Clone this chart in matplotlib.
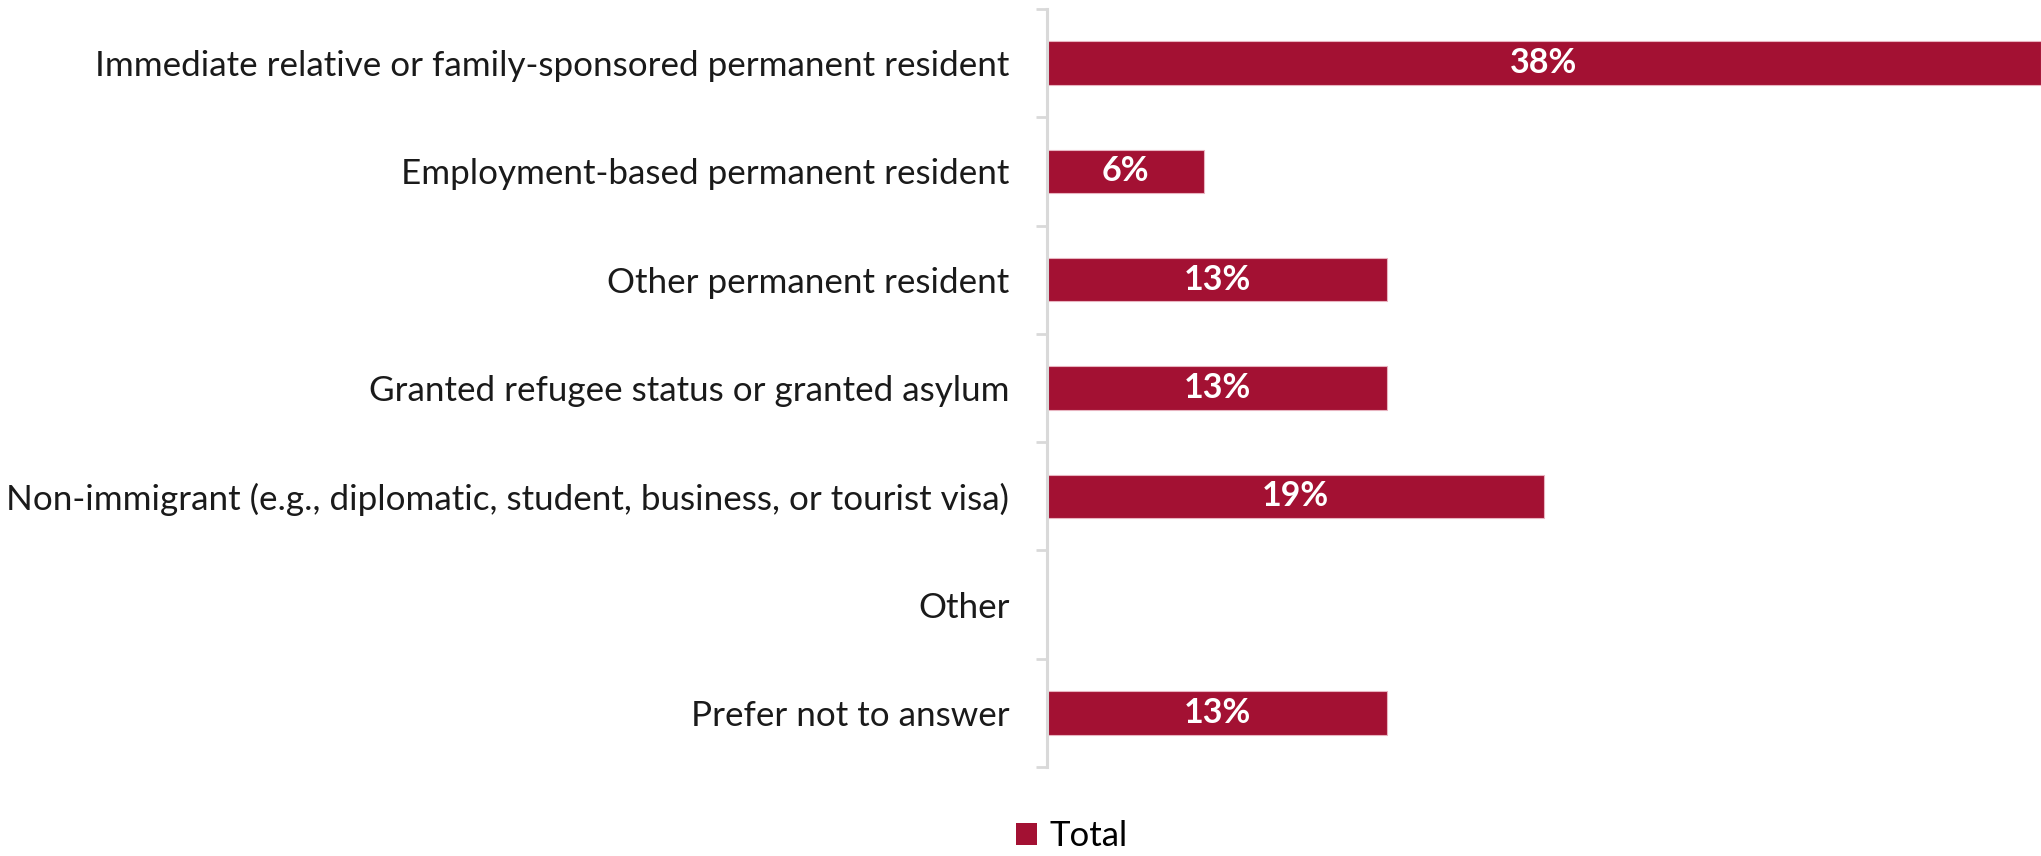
import matplotlib
matplotlib.use("Agg")
import matplotlib.pyplot as plt
from matplotlib.patches import Patch

categories = [
    "Immediate relative or family-sponsored permanent resident",
    "Employment-based permanent resident",
    "Other permanent resident",
    "Granted refugee status or granted asylum",
    "Non-immigrant (e.g., diplomatic, student, business, or tourist visa)",
    "Other",
    "Prefer not to answer",
]
values = [38, 6, 13, 13, 19, 0, 13]
series_name = "Total"

BAR = "#A31133"
AXIS = "#D9D9D9"

plt.rcParams["font.family"] = ["Lato", "DejaVu Sans"]

W, H, DPI = 2041, 856, 100
fig = plt.figure(figsize=(W / DPI, H / DPI), dpi=DPI)
ax = fig.add_axes([1047 / W, 1 - 767 / H, 1 - 1047 / W, (767 - 9) / H])

ypos = list(range(len(categories)))
bars = ax.barh(ypos, values, height=0.4, color=BAR, edgecolor="#E8B4C0",
               linewidth=0.8, zorder=2)

for b, v in zip(bars, values):
    if v <= 0:
        continue
    ax.text(b.get_width() / 2, b.get_y() + b.get_height() / 2, f"{v}%",
            ha="center", va="center", color="white", fontsize=24.5,
            fontweight="bold", zorder=3)

ax.set_xlim(0, 38)
ax.set_ylim(len(categories) - 0.5, -0.5)

ax.set_yticks(ypos)
ax.set_yticklabels(categories, fontsize=25.2, color="#1a1a1a")
ax.tick_params(axis="y", which="major", length=0, pad=27)
ax.set_yticks([i - 0.5 for i in range(len(categories) + 1)], minor=True)
ax.tick_params(axis="y", which="minor", length=8, width=2, color=AXIS)
ax.set_xticks([])

for s in ["top", "right", "bottom"]:
    ax.spines[s].set_visible(False)
ax.spines["left"].set_color(AXIS)
ax.spines["left"].set_linewidth(2.2)

fig.legend(handles=[Patch(facecolor=BAR, label=series_name)],
           loc="center", bbox_to_anchor=(1072 / W, 1 - 836 / H),
           frameon=False, fontsize=25, handlelength=0.6, handleheight=0.6,
           handletextpad=0.35, borderpad=0)

fig.savefig("out.png", dpi=DPI, facecolor="white")
